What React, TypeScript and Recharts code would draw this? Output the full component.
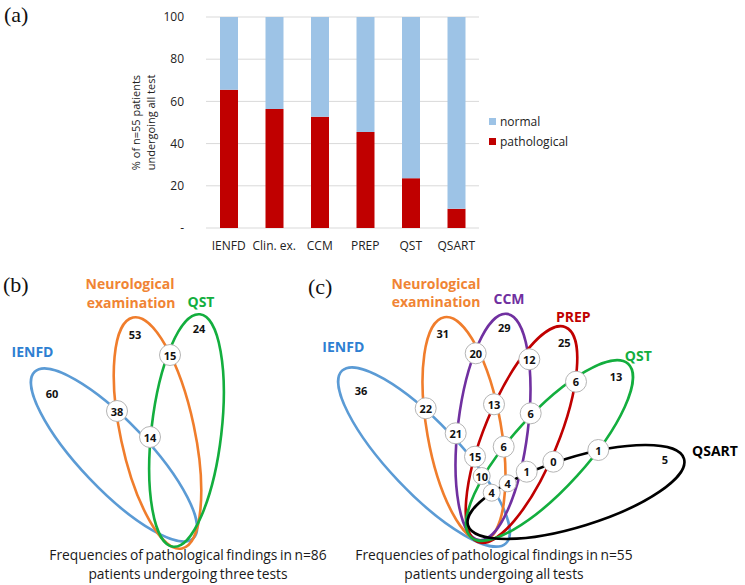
import React from 'react';
import {
  BarChart,
  Bar,
  XAxis,
  YAxis,
  CartesianGrid,
  Legend,
  ScatterChart,
  Scatter,
} from 'recharts';

// ---------- Panel (a): stacked percentages ----------
const categories = ['IENFD', 'Clin. ex.', 'CCM', 'PREP', 'QST', 'QSART'];
const pathological = [65.5, 56.4, 52.7, 45.5, 23.6, 9.1];
const normal = [34.5, 43.6, 47.3, 54.5, 76.4, 90.9];
const yTicks = [0, 20, 40, 60, 80, 100];
const legendOrder = ['normal', 'pathological'];
const yAxisTitle = ['% of n=55 patients', 'undergoing all test'];

// ---------- Panel (b): three tests, n=86 (figure coordinates) ----------
const vennBSets = [
  { set: 'IENFD', x: 114, y: 455, rx: 115, ry: 34, angle: 46.4 },
  { set: 'NEURO', x: 157.5, y: 433, rx: 118, ry: 37, angle: 78 },
  { set: 'QST', x: 186.5, y: 430.5, rx: 117, ry: 35, angle: 96.6 },
];
const vennBCounts = [
  { label: '60', x: 52, y: 393 },
  { label: '53', x: 135, y: 334 },
  { label: '24', x: 199, y: 328 },
];
const vennBOverlaps = [
  { label: '15', x: 170, y: 355 },
  { label: '38', x: 117, y: 411 },
  { label: '14', x: 150, y: 437 },
];
const vennBTitles = [
  { label: 'IENFD', set: 'IENFD', x: 32.5, y: 351 },
  { label: 'Neurological', set: 'NEURO', x: 130, y: 283 },
  { label: 'examination', set: 'NEURO', x: 131, y: 302 },
  { label: 'QST', set: 'QST', x: 201, y: 301 },
];
const vennBCaption = [
  { label: 'Frequencies of pathological findings in n=86', x: 188, y: 554.5 },
  { label: 'patients undergoing three tests', x: 188, y: 573 },
];

// ---------- Panel (c): all tests, n=55 (figure coordinates) ----------
const vennCSets = [
  { set: 'IENFD', x: 424, y: 457, rx: 119, ry: 35, angle: 46.5 },
  { set: 'NEURO', x: 464, y: 429, rx: 113.5, ry: 37, angle: 80 },
  { set: 'CCM', x: 493, y: 427, rx: 114, ry: 35, angle: 97 },
  { set: 'PREP', x: 521.5, y: 434.5, rx: 116, ry: 37, angle: 112.3 },
  { set: 'QST', x: 549.5, y: 450.5, rx: 117, ry: 37.5, angle: 132.2 },
  { set: 'QSART', x: 576, y: 492, rx: 113, ry: 34.5, angle: -17.2 },
];
const vennCCounts = [
  { label: '36', x: 361, y: 390 },
  { label: '31', x: 442.7, y: 333.3 },
  { label: '29', x: 504.3, y: 327.3 },
  { label: '25', x: 564.3, y: 342.7 },
  { label: '13', x: 616, y: 376 },
  { label: '5', x: 665, y: 459.3 },
];
const vennCOverlaps = [
  { label: '20', x: 475.7, y: 353.3 },
  { label: '12', x: 529.3, y: 359.3 },
  { label: '6', x: 576, y: 381.7 },
  { label: '22', x: 425.7, y: 408.3 },
  { label: '13', x: 494, y: 404.3 },
  { label: '6', x: 530.7, y: 413.3 },
  { label: '21', x: 455.7, y: 433.3 },
  { label: '6', x: 503.7, y: 446.7 },
  { label: '15', x: 475, y: 456.7 },
  { label: '1', x: 598.3, y: 450 },
  { label: '0', x: 553.3, y: 461.7 },
  { label: '1', x: 526.7, y: 471.7 },
  { label: '10', x: 481.7, y: 476 },
  { label: '4', x: 507.7, y: 483.3 },
  { label: '4', x: 491.7, y: 492.7 },
];
const vennCSmallBadges = [12, 13, 14];
const vennCTitles = [
  { label: 'IENFD', set: 'IENFD', x: 343.3, y: 346.7 },
  { label: 'Neurological', set: 'NEURO', x: 436, y: 283 },
  { label: 'examination', set: 'NEURO', x: 436, y: 301 },
  { label: 'CCM', set: 'CCM', x: 509, y: 298 },
  { label: 'PREP', set: 'PREP', x: 573.3, y: 316.7 },
  { label: 'QST', set: 'QST', x: 638.3, y: 355 },
  { label: 'QSART', set: 'QSART', x: 715, y: 450.7 },
];
const vennCCaption = [
  { label: 'Frequencies of pathological findings in n=55', x: 494, y: 554.5 },
  { label: 'patients undergoing all tests', x: 494, y: 573 },
];

// ---------- styles ----------
const FONT = "'Open Sans', 'DejaVu Sans', sans-serif";
const BAR_COLORS: Record<string, string> = { normal: '#9DC3E6', pathological: '#C00000' };
const LINE_COLORS: Record<string, string> = {
  IENFD: '#5B9BD5',
  NEURO: '#F07D2C',
  CCM: '#7030A0',
  PREP: '#C00000',
  QST: '#13AE3E',
  QSART: '#000000',
};
const TEXT_COLORS: Record<string, string> = {
  IENFD: '#2E7FD2',
  NEURO: '#F08434',
  CCM: '#7030A0',
  PREP: '#C00000',
  QST: '#13AE3E',
  QSART: '#000000',
};

const barData = categories.map((c, i) => ({
  name: c,
  pathological: pathological[i],
  normal: normal[i],
}));

// Venn coordinate frame (lower half of figure)
const VENN_TOP = 260;
const VENN_W = 745;
const VENN_H = 325;
const X_DOMAIN: [number, number] = [0, 745];
const Y_DOMAIN: [number, number] = [260, 585];
const KX = VENN_W / (X_DOMAIN[1] - X_DOMAIN[0]);
const KY = VENN_H / (Y_DOMAIN[1] - Y_DOMAIN[0]);

const EllipseShape = (props: any) => {
  const { cx, cy, payload } = props;
  if (cx == null || cy == null) return null;
  return (
    <ellipse
      cx={cx}
      cy={cy}
      rx={payload.rx * KX}
      ry={payload.ry * KY}
      transform={`rotate(${payload.angle} ${cx} ${cy})`}
      fill="none"
      stroke={LINE_COLORS[payload.set]}
      strokeWidth={2.6}
    />
  );
};

const CountShape = (props: any) => {
  const { cx, cy, payload } = props;
  return (
    <text
      x={cx}
      y={cy}
      textAnchor="middle"
      dominantBaseline="central"
      fontFamily={FONT}
      fontWeight={700}
      fontSize={11}
      fill="#111"
    >
      {payload.label}
    </text>
  );
};

const makeBadgeShape = (small: number[]) => (props: any) => {
  const { cx, cy, payload, index } = props;
  const r = small.includes(index) ? 8.5 : 10.5;
  return (
    <g>
      <circle cx={cx} cy={cy} r={r} fill="#ffffff" stroke="#b5b5b5" strokeWidth={1} />
      <text
        x={cx}
        y={cy}
        textAnchor="middle"
        dominantBaseline="central"
        fontFamily={FONT}
        fontWeight={700}
        fontSize={11}
        fill="#111"
      >
        {payload.label}
      </text>
    </g>
  );
};

const TitleShape = (props: any) => {
  const { cx, cy, payload } = props;
  return (
    <text
      x={cx}
      y={cy}
      textAnchor="middle"
      dominantBaseline="central"
      fontFamily={FONT}
      fontWeight={700}
      fontSize={14}
      fill={TEXT_COLORS[payload.set]}
    >
      {payload.label}
    </text>
  );
};

const CaptionShape = (props: any) => {
  const { cx, cy, payload } = props;
  return (
    <text
      x={cx}
      y={cy}
      textAnchor="middle"
      dominantBaseline="central"
      fontFamily={FONT}
      fontSize={13.8}
      fill="#1a1a1a"
      style={{ wordSpacing: '-1px' }}
    >
      {payload.label}
    </text>
  );
};

const YTitle = (props: any) => {
  const vb = props.viewBox || { x: 166, y: 17, width: 40, height: 211 };
  const cy = vb.y + vb.height / 2;
  const x1 = vb.x - 31;
  const x2 = vb.x - 15.3;
  return (
    <g>
      {[x1, x2].map((x, i) => (
        <text
          key={i}
          x={x}
          y={cy}
          transform={`rotate(-90 ${x} ${cy})`}
          textAnchor="middle"
          dominantBaseline="central"
          fontFamily={FONT}
          fontSize={11}
          fill="#222"
        >
          {yAxisTitle[i]}
        </text>
      ))}
    </g>
  );
};

const LegendContent = () => (
  <div style={{ fontFamily: FONT, fontSize: 12, color: '#222' }}>
    {legendOrder.map((n) => (
      <div key={n} style={{ display: 'flex', alignItems: 'center', height: 20 }}>
        <span
          style={{
            display: 'inline-block',
            width: 7,
            height: 7,
            background: BAR_COLORS[n],
            marginRight: 4,
          }}
        />
        <span>{n}</span>
      </div>
    ))}
  </div>
);

const panelLabel: React.CSSProperties = {
  position: 'absolute',
  fontFamily: "'Liberation Serif', 'DejaVu Serif', serif",
  fontSize: 22,
  lineHeight: '22px',
  color: '#111',
};

export default function App() {
  return (
    <div
      style={{
        position: 'absolute',
        left: 0,
        top: 0,
        width: 745,
        height: 585,
        background: '#ffffff',
        fontFamily: FONT,
        overflow: 'hidden',
      }}
    >
      <div style={{ ...panelLabel, left: 4, top: 4 }}>(a)</div>
      <div style={{ ...panelLabel, left: 3, top: 274 }}>(b)</div>
      <div style={{ ...panelLabel, left: 308, top: 275.5 }}>(c)</div>

      <div style={{ position: 'absolute', left: 0, top: 0 }}>
        <BarChart
          width={745}
          height={260}
          data={barData}
          margin={{ top: 17, right: 266, bottom: 2, left: 166 }}
        >
          <CartesianGrid vertical={false} stroke="#d9d9d9" strokeWidth={1} />
          <XAxis
            dataKey="name"
            axisLine={false}
            tickLine={false}
            tickSize={0}
            tickMargin={13}
            interval={0}
            height={30}
            tick={{ fontSize: 12, fill: '#222' }}
          />
          <YAxis
            type="number"
            domain={[0, 100]}
            ticks={yTicks}
            width={40}
            axisLine={false}
            tickLine={false}
            tickSize={0}
            tickMargin={22}
            tickFormatter={(v: number) => (v === 0 ? '-' : String(v))}
            tick={{ fontSize: 12, fill: '#222' }}
            label={(p: any) => <YTitle {...p} />}
          />
          <Legend
            layout="vertical"
            align="center"
            verticalAlign="middle"
            content={<LegendContent />}
            wrapperStyle={{ position: 'absolute', left: 489, top: 111.5, width: 110 }}
          />
          <Bar
            dataKey="pathological"
            stackId="s"
            fill={BAR_COLORS.pathological}
            barSize={18}
            isAnimationActive={false}
          />
          <Bar
            dataKey="normal"
            stackId="s"
            fill={BAR_COLORS.normal}
            barSize={18}
            isAnimationActive={false}
          />
        </BarChart>
      </div>

      <div style={{ position: 'absolute', left: 0, top: VENN_TOP }}>
        <ScatterChart width={VENN_W} height={VENN_H} margin={{ top: 0, right: 0, bottom: 0, left: 0 }}>
          <XAxis type="number" dataKey="x" domain={X_DOMAIN} allowDataOverflow hide />
          <YAxis type="number" dataKey="y" domain={Y_DOMAIN} allowDataOverflow reversed hide />
          <Scatter data={vennBSets} shape={EllipseShape} isAnimationActive={false} />
          <Scatter data={vennCSets} shape={EllipseShape} isAnimationActive={false} />
          <Scatter data={vennBCounts} shape={CountShape} isAnimationActive={false} />
          <Scatter data={vennCCounts} shape={CountShape} isAnimationActive={false} />
          <Scatter data={vennBOverlaps} shape={makeBadgeShape([])} isAnimationActive={false} />
          <Scatter data={vennCOverlaps} shape={makeBadgeShape(vennCSmallBadges)} isAnimationActive={false} />
          <Scatter data={vennBTitles} shape={TitleShape} isAnimationActive={false} />
          <Scatter data={vennCTitles} shape={TitleShape} isAnimationActive={false} />
          <Scatter data={vennBCaption} shape={CaptionShape} isAnimationActive={false} />
          <Scatter data={vennCCaption} shape={CaptionShape} isAnimationActive={false} />
        </ScatterChart>
      </div>
    </div>
  );
}
